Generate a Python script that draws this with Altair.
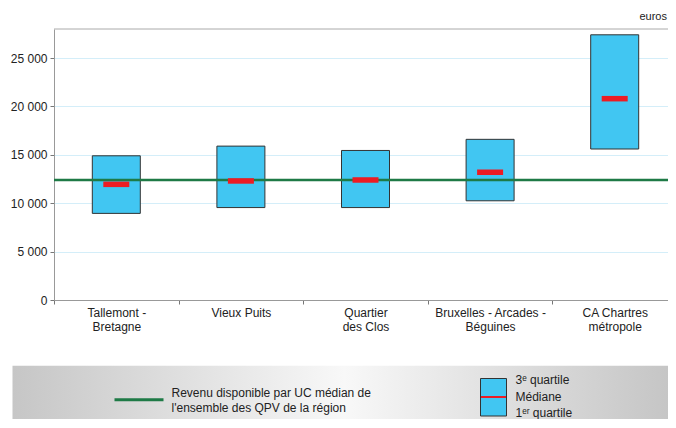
import altair as alt
import pandas as pd

categories = ["Tallemont -|Bretagne", "Vieux Puits", "Quartier|des Clos",
              "Bruxelles - Arcades -|Béguines", "CA Chartres|métropole"]
q1 = [8950, 9550, 9550, 10250, 15600]
median = [11950, 12300, 12400, 13200, 20800]
q3 = [14900, 15900, 15450, 16600, 27400]
reference_median = 12400
y_ticks = [0, 5000, 10000, 15000, 20000, 25000]

df = pd.DataFrame({"cat": categories, "q1": q1, "med": median, "q3": q3})

W, H = 614, 271
XR = 623  # x range extends to the page edge (clipped by the svg)
FONT = "Liberation Sans"
BLUE = "#41C6F2"
RED = "#EC1C24"
GREEN = "#1E7A46"

x_scale = alt.Scale(paddingInner=0, paddingOuter=0, range=[0, XR])
x_enc = alt.X("cat:N", sort=None, title=None, scale=x_scale,
              axis=alt.Axis(labelExpr="split(datum.label, '|')", labelAngle=0,
                            tickBand="extent", tickSize=4, tickColor="#777",
                            domainColor="#999", labelColor="#222", labelFontSize=12,
                            labelFont=FONT, labelPadding=3, labelLineHeight=14,
                            labelBaseline="top"))
y_scale = alt.Scale(domain=[0, 28000], nice=False)

base = alt.Chart(df)

boxes = base.mark_bar(width=48, fill=BLUE, stroke="#333", strokeWidth=1).encode(
    x=x_enc,
    y=alt.Y("q1:Q", scale=y_scale, title=None,
            axis=alt.Axis(values=y_ticks,
                          labelExpr="replace(format(datum.value, ','), ',', ' ')",
                          grid=True, gridColor="#D4EEF9", tickSize=4, tickColor="#777",
                          domainColor="#999", labelColor="#222", labelFontSize=12,
                          labelFont=FONT, labelPadding=3)),
    y2="q3:Q",
)

top_border = alt.Chart(pd.DataFrame({"v": [28000]})).mark_rule(
    color="#AAAAAA", strokeWidth=1).encode(
    y=alt.Y("v:Q", scale=y_scale), x=alt.value(0), x2=alt.value(XR))

ref_line = alt.Chart(pd.DataFrame({"v": [reference_median]})).mark_rule(
    color=GREEN, strokeWidth=2.5).encode(
    y=alt.Y("v:Q", scale=y_scale), x=alt.value(0), x2=alt.value(XR))

med_ticks = base.mark_tick(color=RED, size=26, thickness=5.5, orient="horizontal",
                           opacity=1).encode(
    x=alt.X("cat:N", sort=None, scale=x_scale), y=alt.Y("med:Q", scale=y_scale))

euros = alt.Chart(pd.DataFrame({"t": ["euros"]})).mark_text(
    align="right", baseline="middle", fontSize=11, font=FONT, color="#222").encode(
    x=alt.value(W - 1), y=alt.value(-12), text="t:N")

# legend
one = pd.DataFrame({"a": [0]})
leg_bg = alt.Chart(one).mark_rect(
    fill=alt.Gradient(gradient="linear", x1=0, y1=0, x2=1, y2=0,
                      stops=[alt.GradientStop(offset=0, color="#C6C6C6"),
                             alt.GradientStop(offset=0.5, color="#F8F8F8"),
                             alt.GradientStop(offset=1, color="#C4C4C4")])).encode(
    x=alt.value(-41.5), x2=alt.value(XR), y=alt.value(336.7), y2=alt.value(400))

leg_line = alt.Chart(one).mark_rule(color=GREEN, strokeWidth=3).encode(
    x=alt.value(60.5), x2=alt.value(109.5), y=alt.value(370.7))

def leg_text(txt, x, y):
    return alt.Chart(pd.DataFrame({"t": [txt]})).mark_text(
        align="left", baseline="middle", fontSize=12, font=FONT, color="#222").encode(
        x=alt.value(x), y=alt.value(y), text="t:N")

leg_box = alt.Chart(one).mark_rect(fill=BLUE, stroke="#333", strokeWidth=1).encode(
    x=alt.value(426.5), x2=alt.value(452.5), y=alt.value(349.5), y2=alt.value(387))
leg_med = alt.Chart(one).mark_rule(color=RED, strokeWidth=2).encode(
    x=alt.value(427), x2=alt.value(452), y=alt.value(368))

chart = alt.layer(
    boxes, top_border, ref_line, med_ticks, euros,
    leg_bg, leg_line,
    leg_text("Revenu disponible par UC médian de", 117.5, 363.7),
    leg_text("l'ensemble des QPV de la région", 117.5, 378.7),
    leg_box, leg_med,
    leg_text("3ᵉ quartile", 461.5, 350.5),
    leg_text("Médiane", 461.5, 367.5),
    leg_text("1ᵉʳ quartile", 461.5, 383.5),
).properties(
    width=W, height=H,
    autosize=alt.AutoSizeParams(type="none"),
    padding={"left": 46, "top": 21, "right": 0, "bottom": 119},
    background="white",
).configure_view(stroke=None)

chart.save("out.html", embed_options={"renderer": "svg", "actions": False})
